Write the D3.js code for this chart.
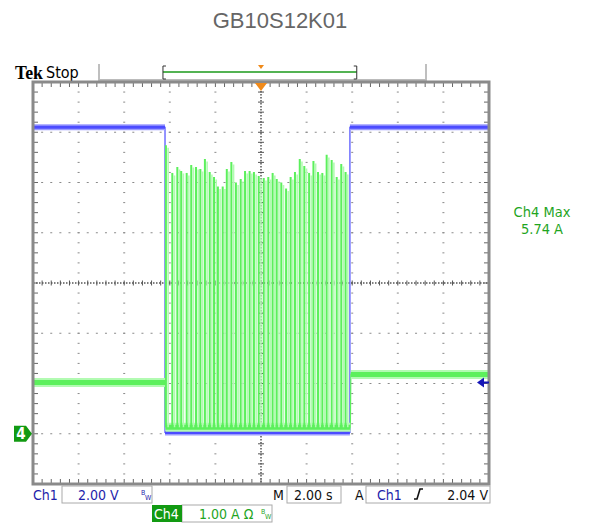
<!DOCTYPE html>
<html><head><meta charset="utf-8">
<script src="https://cdn.jsdelivr.net/npm/d3@7"></script>
<style>
html,body{margin:0;padding:0;background:#fff;}
svg{display:block;}
</style></head>
<body>
<svg id="c" width="592" height="524"></svg>
<script>
// ---- data ----
const title = "GB10S12K01";
const gridTimes = [-10, -8, -6, -4, -2, 0, 2, 4, 6, 8, 10];   // s
const gridDivs = [-4, -3, -2, -1, 0, 1, 2, 3, 4];              // divisions
const ch1Times = [-10, -4.21, -4.21, 3.9, 3.9, 10];
const ch1Volts = [12.2, 12.2, 0.05, 0.05, 12.2, 12.2];
const ch4Times = [-10, -4.21, -4.19, 3.92, 3.94, 10];
const ch4Amps  = [1.02, 1.02, 0.13, 0.13, 1.18, 1.18];
const spikeTimes = [-4.17, -3.89, -3.67, -3.50, -3.26, -3.06, -2.85, -2.66, -2.46, -2.25,
                    -2.06, -1.89, -1.68, -1.50, -1.30, -1.10, -0.89, -0.70, -0.50, -0.31,
                    -0.10, 0.12, 0.32, 0.51, 0.69, 0.89, 1.10, 1.30, 1.49, 1.70,
                    1.90, 2.11, 2.30, 2.50, 2.69, 2.88, 3.10, 3.32, 3.52, 3.71];
const spikePeaks = [5.74, 5.19, 5.31, 5.23, 5.19, 5.35, 5.31, 5.27, 5.47, 5.21,
                    5.11, 4.92, 4.92, 5.27, 5.41, 5.00, 5.07, 5.23, 5.23, 5.21,
                    5.13, 5.09, 5.11, 5.19, 5.07, 5.00, 4.88, 5.11, 5.21, 5.47,
                    5.33, 5.19, 5.43, 5.21, 5.19, 5.55, 5.45, 5.11, 5.37, 5.21];
const ch1Scale = 2.00, ch4Scale = 1.00, ch1Offset = -3, ch4Offset = -3; // V/div, A/div, div
const ch4Max = "5.74 A";
const trigLevel = 2.04;

// ---- scales ----
const svg = d3.select("#c");
const x = d3.scaleLinear().domain([-10, 10]).range([33, 489]);
const yd = d3.scaleLinear().domain([-4, 4]).range([484, 82]);
const y1 = v => yd(v / ch1Scale + ch1Offset);
const y4 = a => yd(a / ch4Scale + ch4Offset);

const blue = "#4c4cff", blueLight = "#9c9cff";
const green = "#5cf05c", greenLight = "#b2fbb2";
const txtGreen = "#1fa51f", txtBlue = "#1e1eaa";
const font = "'DejaVu Sans Condensed','Liberation Sans Narrow','DejaVu Sans',sans-serif";

// title
svg.append("text").attr("x", 280).attr("y", 28).attr("text-anchor", "middle")
  .attr("font-family", "'Liberation Sans',Arial,sans-serif").attr("font-size", 22)
  .attr("fill", "#666").text(title);

// header
svg.append("text").attr("x", 15).attr("y", 79).attr("font-family", "'Liberation Serif','DejaVu Serif',serif")
  .attr("font-weight", "bold").attr("font-size", 19).attr("textLength", 28).attr("lengthAdjust", "spacingAndGlyphs").text("Tek");
svg.append("text").attr("x", 46).attr("y", 78).attr("font-family", font).attr("font-size", 16).text("Stop");
svg.append("line").attr("x1", 99).attr("x2", 99).attr("y1", 64).attr("y2", 81).attr("stroke", "#aaa").attr("stroke-width", 1.5);
svg.append("line").attr("x1", 426).attr("x2", 426).attr("y1", 64).attr("y2", 81).attr("stroke", "#aaa").attr("stroke-width", 1.5);
svg.append("line").attr("x1", 99).attr("x2", 426).attr("y1", 80).attr("y2", 80).attr("stroke", "#bbb").attr("stroke-width", 2);
// record bracket
svg.append("line").attr("x1", x(-4.3)).attr("x2", x(4.2)).attr("y1", 72).attr("y2", 72).attr("stroke", "#1a9a1a").attr("stroke-width", 1.5);
svg.append("path").attr("d", `M${x(-4.3)+3},66 h-3 v13 h3`).attr("fill", "none").attr("stroke", "#333").attr("stroke-width", 1);
svg.append("path").attr("d", `M${x(4.2)-3},66 h3 v13 h-3`).attr("fill", "none").attr("stroke", "#333").attr("stroke-width", 1);
svg.append("path").attr("d", `M${x(0)-3},65 h6 l-3,4 z`).attr("fill", "#f08a1a");

// ---- graticule ----
const g = svg.append("g");
const fine = d3.range(-20, 21).map(k => k / 5);       // 1/5 div vertical
gridTimes.forEach(t => {
  if (t === 0 || Math.abs(t) === 10) return;
  fine.forEach(d => g.append("rect").attr("x", x(t) - 1).attr("y", yd(d) - 0.5).attr("width", 2).attr("height", 1).attr("fill", "#8a8a8a"));
});
gridDivs.forEach(d => {
  if (d === 0 || Math.abs(d) === 4) return;
  d3.range(-25, 26).forEach(k => {
    const t = k * 0.4;
    g.append("rect").attr("x", x(t) - 1).attr("y", yd(d) - 0.5).attr("width", 2).attr("height", 1).attr("fill", "#8a8a8a");
  });
});
// center lines
g.append("line").attr("x1", x(0)).attr("x2", x(0)).attr("y1", 82).attr("y2", 484)
  .attr("stroke", "#555").attr("stroke-width", 1.5).attr("stroke-dasharray", "1.5,1.5");
g.append("line").attr("x1", 33).attr("x2", 489).attr("y1", yd(0)).attr("y2", yd(0))
  .attr("stroke", "#555").attr("stroke-width", 1.5).attr("stroke-dasharray", "1.5,1.5");
fine.forEach(d => g.append("line").attr("x1", x(0) - 3).attr("x2", x(0) + 3).attr("y1", yd(d)).attr("y2", yd(d)).attr("stroke", "#555").attr("stroke-width", 1));
d3.range(-25, 26).forEach(k => {
  const t = k * 0.4;
  g.append("line").attr("x1", x(t)).attr("x2", x(t)).attr("y1", yd(0) - 2.5).attr("y2", yd(0) + 2.5).attr("stroke", "#555").attr("stroke-width", 1);
});
// frame ticks
d3.range(-25, 26).forEach(k => {
  const t = k * 0.4;
  g.append("line").attr("x1", x(t)).attr("x2", x(t)).attr("y1", 83).attr("y2", 87).attr("stroke", "#666").attr("stroke-width", 1);
  g.append("line").attr("x1", x(t)).attr("x2", x(t)).attr("y1", 479).attr("y2", 483).attr("stroke", "#666").attr("stroke-width", 1);
});
fine.forEach(d => {
  g.append("line").attr("x1", 34).attr("x2", 38).attr("y1", yd(d)).attr("y2", yd(d)).attr("stroke", "#666").attr("stroke-width", 1);
  g.append("line").attr("x1", 484).attr("x2", 488).attr("y1", yd(d)).attr("y2", yd(d)).attr("stroke", "#666").attr("stroke-width", 1);
});

// ---- traces ----
const tr = svg.append("g");
function drawTrace(times, vals, yf, col, colLight, halo, core) {
  const pts = times.map((t, i) => [x(t), yf(vals[i])]);
  // thin connecting path (edges)
  tr.append("path").attr("d", d3.line()(pts)).attr("fill", "none").attr("stroke", col).attr("stroke-width", 1.2);
  // thick noisy bands on flat segments
  for (let i = 0; i < pts.length - 1; i++) {
    if (vals[i] === vals[i + 1] && pts[i + 1][0] - pts[i][0] > 3) {
      const seg = [pts[i], pts[i + 1]];
      tr.append("path").attr("d", d3.line()(seg)).attr("fill", "none").attr("stroke", colLight).attr("stroke-width", halo);
      tr.append("path").attr("d", d3.line()(seg)).attr("fill", "none").attr("stroke", col).attr("stroke-width", core);
    }
  }
}
drawTrace(ch1Times, ch1Volts, y1, blue, blueLight, 6, 3);
drawTrace(ch4Times, ch4Amps, y4, green, greenLight, 9, 5);
// spikes
spikeTimes.forEach((t, i) => {
  tr.append("line").attr("x1", x(t) + 2.2).attr("x2", x(t) + 2.2).attr("y1", y4(0.13)).attr("y2", y4(spikePeaks[i] - 0.05))
    .attr("stroke", greenLight).attr("stroke-width", 1.6);
  tr.append("line").attr("x1", x(t)).attr("x2", x(t)).attr("y1", y4(0.13)).attr("y2", y4(spikePeaks[i]))
    .attr("stroke", green).attr("stroke-width", 2);
});

// frame
svg.append("rect").attr("x", 33).attr("y", 82).attr("width", 456).attr("height", 402)
  .attr("fill", "none").attr("stroke", "#8a8a8a").attr("stroke-width", 3);
// trigger position marker
svg.append("path").attr("d", `M${x(0)-6},83 h12 l-6,8 z`).attr("fill", "#f08a1a");
// trigger level marker (ch1)
svg.append("path").attr("d", `M${x(10)-12},${y1(trigLevel)} l7,-5 v10 z`).attr("fill", "#1616b8");
svg.append("line").attr("x1", x(10) - 6).attr("x2", x(10)).attr("y1", y1(trigLevel)).attr("y2", y1(trigLevel)).attr("stroke", "#1616b8").attr("stroke-width", 2);
// ch4 ground marker
const gy = y4(0);
svg.append("path").attr("d", `M14,${gy-8} h12 l6,8 l-6,8 h-12 z`).attr("fill", "#129a12");
svg.append("text").attr("x", 21).attr("y", gy + 5.5).attr("text-anchor", "middle").attr("font-family", font)
  .attr("font-weight", "bold").attr("font-size", 15).attr("fill", "#fff").text("4");

// right readout
svg.append("text").attr("x", 542).attr("y", 217).attr("text-anchor", "middle").attr("font-family", font)
  .attr("font-size", 14.5).attr("fill", txtGreen).text("Ch4 Max");
svg.append("text").attr("x", 542).attr("y", 234).attr("text-anchor", "middle").attr("font-family", font)
  .attr("font-size", 14.5).attr("fill", txtGreen).text(ch4Max);

// bottom readouts
const bt = svg.append("g").attr("font-family", font).attr("font-size", 14);
function box(x0, y0, w, h) {
  bt.append("rect").attr("x", x0).attr("y", y0).attr("width", w).attr("height", h).attr("fill", "#fff").attr("stroke", "#aaa").attr("stroke-width", 1);
}
box(62, 486, 90, 17);
box(287, 486, 54, 17);
box(366, 486, 124, 17);
box(182, 505, 90, 17);
bt.append("text").attr("x", 33).attr("y", 500).attr("fill", txtBlue).text("Ch1");
bt.append("text").attr("x", 78).attr("y", 500).attr("fill", txtBlue).text(ch1Scale.toFixed(2) + " V");
bt.append("text").attr("x", 141).attr("y", 495).attr("fill", txtBlue).attr("font-size", 7).text("B");
bt.append("text").attr("x", 145).attr("y", 500).attr("fill", txtBlue).attr("font-size", 7).text("W");
bt.append("text").attr("x", 273).attr("y", 500).attr("fill", "#111").text("M");
bt.append("text").attr("x", 294).attr("y", 500).attr("fill", "#111").text("2.00 s");
bt.append("text").attr("x", 355).attr("y", 500).attr("fill", "#111").text("A");
bt.append("text").attr("x", 377).attr("y", 500).attr("fill", txtBlue).text("Ch1");
bt.append("path").attr("d", "M414,499 h3 l3,-10 h3").attr("fill", "none").attr("stroke", "#111").attr("stroke-width", 1.6);
bt.append("text").attr("x", 488).attr("y", 500).attr("text-anchor", "end").attr("fill", "#111").text(trigLevel.toFixed(2) + " V");
bt.append("rect").attr("x", 152).attr("y", 505).attr("width", 30).attr("height", 17).attr("fill", "#129a12");
bt.append("text").attr("x", 154).attr("y", 519).attr("fill", "#fff").text("Ch4");
bt.append("text").attr("x", 199).attr("y", 519).attr("fill", txtGreen).text(ch4Scale.toFixed(2) + " A Ω");
bt.append("text").attr("x", 261).attr("y", 514).attr("fill", txtGreen).attr("font-size", 7).text("B");
bt.append("text").attr("x", 265).attr("y", 519).attr("fill", txtGreen).attr("font-size", 7).text("W");
</script>
</body></html>
